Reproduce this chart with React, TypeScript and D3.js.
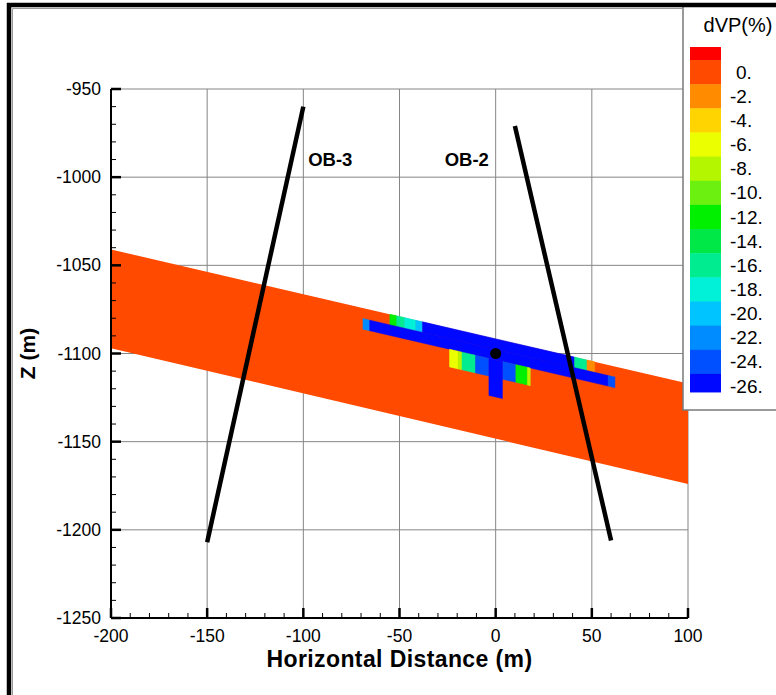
import React, { useEffect, useRef } from 'react';
import * as d3 from 'd3';

// dVP(%) legend levels, top to bottom, and the colour of each level band
const levels = [0, -2, -4, -6, -8, -10, -12, -14, -16, -18, -20, -22, -24, -26];
const levelColors = ['#ff4a00', '#ff8c00', '#ffd400', '#ecff00', '#b4f500', '#6cf010', '#00f000', '#00e848', '#00ec90', '#00f0d8', '#00c4ff', '#008cff', '#0050ff', '#0008ff'];
const aboveColor = '#ff0000';

const xTicks = [-200, -150, -100, -50, 0, 50, 100];
const zTicks = [-950, -1000, -1050, -1100, -1150, -1200, -1250];

// reservoir layer edges (x, z)
const bandTop = [[-200, -1041], [100, -1117]];
const bandBottom = [[-200, -1097], [100, -1174]];

// grid cells: [x0, x1, dVP]; depth (m below layer top) per row
const upperCells = [[-55, -51.5, -12], [-51.5, -47.5, -16], [-47.5, -41.5, -18], [-41.5, -38, -20], [-38, 41, -26], [41, 47.5, -16], [47.5, 51.5, -2]];
const upperDepth = [0, 6];
const injectionCells = [[-69, -65.5, -22], [-65.5, 58.5, -26], [58.5, 62, -24]];
const injectionDepth = [6, 12];
const lowerCells = [[-24, -19.5, -6], [-19.5, -17.5, -8], [-17.5, -10.5, -16], [-10.5, -3.5, -24], [3.5, 10.5, -24], [10.5, 16.5, -12], [16.5, 18, -8]];
const lowerDepth = [12, 22];
const stemCells = [[-3.5, 3.5, -26]];
const stemDepth = [12, 33];

// observation wells
const wells = [
  { name: 'OB-3', path: [[-150, -1207], [-100, -960]], label: [-86, -990] },
  { name: 'OB-2', path: [[60, -1206], [10, -971]], label: [-15, -990] }
];
const injectionPoint = [0, -1100];

const FONT = '"Liberation Sans", Arial, Helvetica, sans-serif';

function App() {
  const ref = useRef(null);

  useEffect(() => {
    const svg = d3.select(ref.current);
    svg.selectAll('*').remove();

    const x = d3.scaleLinear().domain([-200, 100]).range([111, 688]);
    const y = d3.scaleLinear().domain([-1250, -950]).range([618, 89]);
    const [x0, x1] = x.range();
    const [y0, y1] = y.range();

    // colour by dVP value
    const thresholds = levels.slice().reverse().map(v => v + 1);
    const color = d3.scaleThreshold()
      .domain(thresholds)
      .range(levelColors.slice().reverse().concat([aboveColor]));

    const topAt = d3.scaleLinear()
      .domain([bandTop[0][0], bandTop[1][0]])
      .range([bandTop[0][1], bandTop[1][1]]);

    const line = d3.line().x(d => x(d[0])).y(d => y(d[1]));

    // grid
    const grid = svg.append('g').attr('stroke', '#858585').attr('stroke-width', 1);
    xTicks.slice(1).forEach(t => {
      grid.append('line').attr('x1', x(t)).attr('x2', x(t)).attr('y1', y1).attr('y2', y0);
    });
    zTicks.slice(0, -1).forEach(t => {
      grid.append('line').attr('x1', x0).attr('x2', x1).attr('y1', y(t)).attr('y2', y(t));
    });

    // reservoir band
    svg.append('path')
      .attr('d', line([bandTop[0], bandTop[1], bandBottom[1], bandBottom[0]]) + 'Z')
      .attr('fill', color(0));

    // sheared cells
    const drawCells = (cells, depth) => {
      cells.forEach(([a, b, v]) => {
        const pts = [
          [a, topAt(a) - depth[0]], [b, topAt(b) - depth[0]],
          [b, topAt(b) - depth[1]], [a, topAt(a) - depth[1]]
        ];
        svg.append('path')
          .attr('d', line(pts) + 'Z')
          .attr('fill', color(v))
          .attr('stroke', color(v))
          .attr('stroke-width', 0.5);
      });
    };
    drawCells(upperCells, upperDepth);
    drawCells(injectionCells, injectionDepth);
    drawCells(lowerCells, lowerDepth);
    drawCells(stemCells, stemDepth);

    // wells
    wells.forEach(w => {
      svg.append('path')
        .attr('d', line(w.path))
        .attr('stroke', '#000')
        .attr('stroke-width', 4.5)
        .attr('fill', 'none');
      svg.append('text')
        .attr('x', x(w.label[0]))
        .attr('y', y(w.label[1]))
        .attr('text-anchor', 'middle')
        .attr('dy', '0.35em')
        .attr('font-family', FONT)
        .attr('font-weight', 'bold')
        .attr('font-size', 18.5)
        .text(w.name);
    });

    svg.append('circle')
      .attr('cx', x(injectionPoint[0]))
      .attr('cy', y(injectionPoint[1]))
      .attr('r', 5.5)
      .attr('fill', '#000');

    // axes
    const ax = svg.append('g').attr('stroke', '#000');
    ax.append('line').attr('x1', x0).attr('x2', x1).attr('y1', y0).attr('y2', y0).attr('stroke-width', 2);
    ax.append('line').attr('x1', x0).attr('x2', x0).attr('y1', y0).attr('y2', y1).attr('stroke-width', 2);

    d3.range(-200, 101, 10).forEach(t => {
      const major = t % 50 === 0;
      ax.append('line')
        .attr('x1', x(t)).attr('x2', x(t))
        .attr('y1', y0).attr('y2', y0 - (major ? 10 : 5))
        .attr('stroke-width', major ? 2.5 : 1);
    });
    d3.range(-1250, -949, 10).forEach(t => {
      const major = t % 50 === 0;
      ax.append('line')
        .attr('x1', x0).attr('x2', x0 + (major ? 10 : 5))
        .attr('y1', y(t)).attr('y2', y(t))
        .attr('stroke-width', major ? 2.5 : 1);
    });

    const labels = svg.append('g').attr('font-family', FONT).attr('font-size', 17.5).attr('fill', '#000');
    xTicks.forEach(t => {
      labels.append('text')
        .attr('x', x(t)).attr('y', y0 + 24)
        .attr('text-anchor', 'middle')
        .text(t);
    });
    zTicks.forEach(t => {
      labels.append('text')
        .attr('x', x0 - 10).attr('y', y(t))
        .attr('dy', '0.35em')
        .attr('text-anchor', 'end')
        .text(t);
    });

    svg.append('text')
      .attr('x', (x0 + x1) / 2).attr('y', y0 + 49)
      .attr('text-anchor', 'middle')
      .attr('font-family', FONT).attr('font-weight', 'bold').attr('font-size', 23)
      .attr('letter-spacing', 0.4)
      .text('Horizontal Distance (m)');
    svg.append('text')
      .attr('transform', `translate(35,${(y0 + y1) / 2}) rotate(-90)`)
      .attr('text-anchor', 'middle')
      .attr('font-family', FONT).attr('font-weight', 'bold').attr('font-size', 21)
      .text('Z (m)');

    // legend
    const lg = svg.append('g');
    lg.append('rect')
      .attr('x', 683).attr('y', 4).attr('width', 100).attr('height', 406)
      .attr('fill', '#fff').attr('stroke', '#7a7a7a').attr('stroke-width', 1.5);
    lg.append('text')
      .attr('x', 738).attr('y', 32)
      .attr('text-anchor', 'middle')
      .attr('font-family', FONT).attr('font-size', 20)
      .text('dVP(%)');

    const sw = 24.15, top = 60, left = 690, w = 31;
    lg.append('rect').attr('x', left).attr('y', 47).attr('width', w).attr('height', top - 47).attr('fill', aboveColor);
    levels.forEach((v, i) => {
      const h = i === levels.length - 1 ? 18 : sw;
      lg.append('rect')
        .attr('x', left).attr('y', top + i * sw)
        .attr('width', w).attr('height', h + 0.5)
        .attr('fill', levelColors[i]);
      lg.append('text')
        .attr('x', v < 0 ? 730 : 736)
        .attr('y', top + i * sw + 12)
        .attr('dy', '0.35em')
        .attr('font-family', FONT).attr('font-size', 19)
        .text(v + '.');
    });

    // outer frame (top and left edges)
    svg.append('path')
      .attr('d', 'M9,700 V5 H790')
      .attr('fill', 'none')
      .attr('stroke', '#000')
      .attr('stroke-width', 4.5);
    svg.append('path')
      .attr('d', 'M12.5,700 V8.5 H683')
      .attr('fill', 'none')
      .attr('stroke', '#9a9a9a')
      .attr('stroke-width', 1);
  }, []);

  return (
    <svg
      ref={ref}
      width="776"
      height="695"
      style={{ position: 'absolute', left: 0, top: 0, background: '#fff' }}
    />
  );
}

export default App;
